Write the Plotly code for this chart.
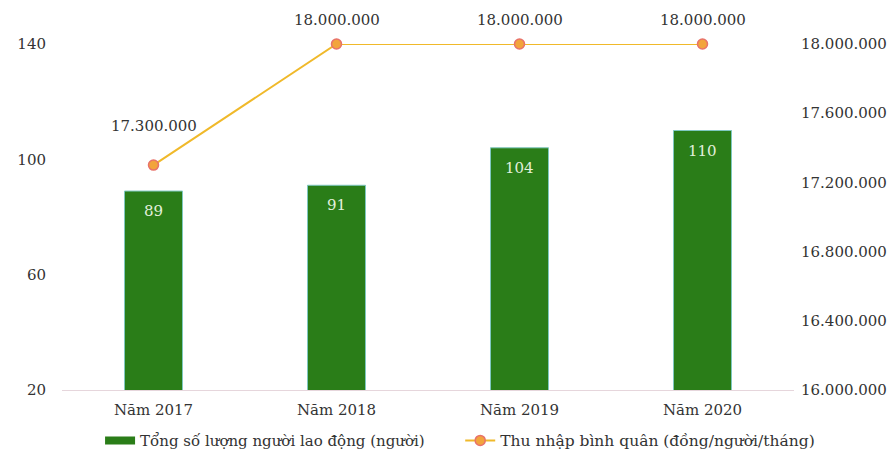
import plotly.graph_objects as go

categories = ["Năm 2017", "Năm 2018", "Năm 2019", "Năm 2020"]
workers = [89, 91, 104, 110]
income = [17300000, 18000000, 18000000, 18000000]
bar_name = "Tổng số lượng người lao động (người)"
line_name = "Thu nhập bình quân (đồng/người/tháng)"

FONT = "DejaVu Serif"
FS = 15
GREEN = "#2a7d18"
label_shift = [39, 24, 24, 24]

def fmt(v):
    return f"{v:,}".replace(",", ".")

fig = go.Figure()
fig.add_trace(go.Bar(
    x=categories, y=workers, name=bar_name, showlegend=False,
    marker=dict(color=GREEN, line=dict(color="#7fc8c0", width=1)),
    yaxis="y",
))
# legend entry for the bars (wide swatch)
fig.add_trace(go.Scatter(
    x=[None], y=[None], name=bar_name, mode="lines",
    line=dict(color=GREEN, width=8), legend="legend", yaxis="y",
))
fig.add_trace(go.Scatter(
    x=categories, y=income, name=line_name, mode="lines+markers",
    line=dict(color="#f0b92a", width=2),
    marker=dict(size=10, color="#f2a43c", line=dict(color="#e8726a", width=1.5)),
    yaxis="y2", cliponaxis=False, legend="legend2",
))
for c, v in zip(categories, workers):
    fig.add_annotation(x=c, y=v, yref="y", text=str(v), showarrow=False,
                       yanchor="middle", yshift=-20,
                       font=dict(family=FONT, size=FS, color="#e2f0dc"))
for c, v, s in zip(categories, income, label_shift):
    fig.add_annotation(x=c, y=v, yref="y2", text=fmt(v), showarrow=False,
                       yanchor="middle", yshift=s,
                       font=dict(family=FONT, size=FS, color="#333333"))

fig.update_layout(
    width=887, height=447,
    margin=dict(l=54, r=101, t=36, b=65, autoexpand=False),
    paper_bgcolor="white", plot_bgcolor="white",
    separators=",.",
    font=dict(family=FONT, size=FS, color="#333333"),
    bargap=0.683,
    showlegend=True,
    legend=dict(orientation="h", x=0.052, xanchor="left", y=-0.147, yanchor="middle",
                font=dict(family=FONT, size=FS, color="#333333"), bgcolor="rgba(0,0,0,0)"),
    legend2=dict(orientation="h", x=0.544, xanchor="left", y=-0.147, yanchor="middle",
                 font=dict(family=FONT, size=15.5, color="#333333"), bgcolor="rgba(0,0,0,0)"),
    xaxis=dict(showgrid=False, showline=True, linecolor="#e6d6dc", linewidth=1,
               ticks="", ticklabelstandoff=6,
               tickfont=dict(family=FONT, size=FS, color="#333333")),
    yaxis=dict(range=[20, 140], tick0=20, dtick=40, showgrid=False, zeroline=False,
               showline=False, ticks="", ticklabelstandoff=15,
               tickfont=dict(family=FONT, size=FS, color="#333333")),
    yaxis2=dict(range=[16000000, 18000000], tick0=16000000, dtick=400000,
                overlaying="y", side="right", showgrid=False, zeroline=False,
                showline=False, ticks="", tickformat=",d", ticklabelstandoff=6,
                tickfont=dict(family=FONT, size=FS, color="#333333")),
)

fig.write_html("out.html")
